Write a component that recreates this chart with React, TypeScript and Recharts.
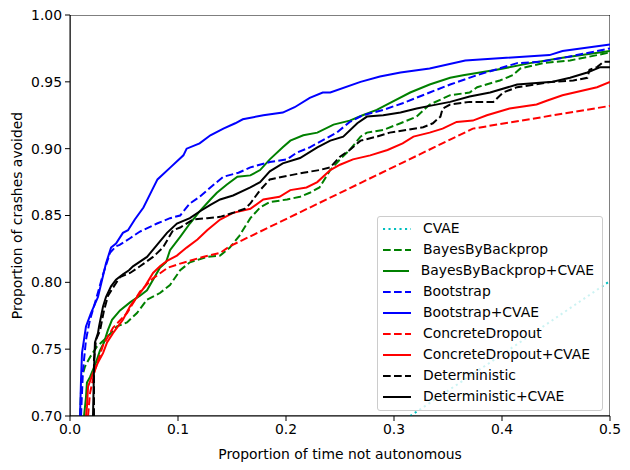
import { LineChart, Line, XAxis, YAxis, Legend, ReferenceArea } from "recharts";

const FONT = "'DejaVu Sans', sans-serif";
const FS = 13.9;

const xTicks = [0, 0.1, 0.2, 0.3, 0.4, 0.5];
const yTicks = [0.7, 0.75, 0.8, 0.85, 0.9, 0.95, 1.0];

// [proportion of time not autonomous, proportion of crashes avoided]
const cvae: [number, number][] = [
  [0.315, 0.7], [0.4, 0.746], [0.5, 0.801],
];

const bayesByBackprop: [number, number][] = [
  [0.0093, 0.7], [0.0102, 0.719], [0.011, 0.729], [0.0139, 0.737], [0.0185, 0.744],
  [0.025, 0.752], [0.0343, 0.759], [0.0435, 0.767], [0.0528, 0.77], [0.062, 0.777],
  [0.0713, 0.787], [0.0833, 0.792], [0.0926, 0.798], [0.102, 0.809], [0.111, 0.815],
  [0.127, 0.819], [0.139, 0.82], [0.148, 0.826], [0.157, 0.835], [0.167, 0.848],
  [0.176, 0.856], [0.185, 0.86], [0.201, 0.862], [0.213, 0.864], [0.222, 0.867],
  [0.231, 0.871], [0.241, 0.884], [0.25, 0.892], [0.259, 0.899], [0.269, 0.909],
  [0.275, 0.912], [0.29, 0.914], [0.306, 0.919], [0.321, 0.924], [0.333, 0.933],
  [0.352, 0.94], [0.37, 0.942], [0.377, 0.946], [0.398, 0.951], [0.41, 0.955],
  [0.417, 0.96], [0.438, 0.964], [0.463, 0.966], [0.488, 0.97], [0.5, 0.972],
];

const bayesByBackpropCvae: [number, number][] = [
  [0.013, 0.7], [0.0148, 0.714], [0.0157, 0.725], [0.0185, 0.729], [0.024, 0.74],
  [0.0278, 0.749], [0.0315, 0.755], [0.035, 0.764], [0.0389, 0.772], [0.0463, 0.779],
  [0.0556, 0.785], [0.0648, 0.79], [0.0713, 0.794], [0.0769, 0.802], [0.0833, 0.811],
  [0.0889, 0.815], [0.0926, 0.824], [0.102, 0.834], [0.111, 0.844], [0.12, 0.853],
  [0.13, 0.862], [0.136, 0.867], [0.145, 0.873], [0.155, 0.879], [0.167, 0.88],
  [0.176, 0.884], [0.185, 0.892], [0.197, 0.901], [0.204, 0.906], [0.216, 0.91],
  [0.229, 0.912], [0.244, 0.918], [0.259, 0.921], [0.271, 0.925], [0.284, 0.929],
  [0.296, 0.934], [0.315, 0.942], [0.333, 0.948], [0.352, 0.953], [0.364, 0.955],
  [0.395, 0.959], [0.426, 0.964], [0.456, 0.968], [0.5, 0.973],
];

const bootstrap: [number, number][] = [
  [0.0102, 0.7], [0.012, 0.734], [0.0148, 0.757], [0.0185, 0.772], [0.024, 0.787],
  [0.0306, 0.806], [0.037, 0.822], [0.0426, 0.827], [0.046, 0.828], [0.0556, 0.833],
  [0.0648, 0.838], [0.0806, 0.844], [0.0926, 0.848], [0.102, 0.85], [0.111, 0.859],
  [0.12, 0.864], [0.13, 0.871], [0.142, 0.879], [0.156, 0.882], [0.167, 0.886],
  [0.185, 0.89], [0.201, 0.892], [0.21, 0.897], [0.222, 0.901], [0.238, 0.908],
  [0.247, 0.912], [0.259, 0.92], [0.271, 0.925], [0.29, 0.929], [0.308, 0.934],
  [0.333, 0.942], [0.352, 0.948], [0.377, 0.955], [0.414, 0.964], [0.435, 0.965],
  [0.463, 0.969], [0.494, 0.974], [0.5, 0.975],
];

const bootstrapCvae: [number, number][] = [
  [0.0093, 0.7], [0.0102, 0.727], [0.0111, 0.747], [0.0148, 0.767], [0.0194, 0.777],
  [0.0259, 0.789], [0.0333, 0.814], [0.038, 0.826], [0.0426, 0.829], [0.049, 0.837],
  [0.0537, 0.839], [0.06, 0.847], [0.068, 0.856], [0.076, 0.869], [0.081, 0.877],
  [0.093, 0.886], [0.105, 0.895], [0.108, 0.9], [0.12, 0.904], [0.13, 0.91],
  [0.142, 0.915], [0.153, 0.919], [0.16, 0.922], [0.179, 0.925], [0.197, 0.927],
  [0.208, 0.931], [0.222, 0.938], [0.234, 0.942], [0.241, 0.942], [0.269, 0.95],
  [0.287, 0.954], [0.306, 0.957], [0.333, 0.96], [0.366, 0.966], [0.444, 0.97],
  [0.456, 0.973], [0.5, 0.978],
];

const concreteDropout: [number, number][] = [
  [0.0167, 0.7], [0.0185, 0.717], [0.0231, 0.734], [0.0306, 0.753], [0.0398, 0.766],
  [0.0528, 0.777], [0.0648, 0.793], [0.0769, 0.803], [0.0907, 0.811], [0.102, 0.814],
  [0.123, 0.819], [0.139, 0.822], [0.148, 0.827], [0.373, 0.915], [0.5, 0.932],
];

const concreteDropoutCvae: [number, number][] = [
  [0.0148, 0.7], [0.0157, 0.707], [0.0167, 0.722], [0.0213, 0.732], [0.0259, 0.74],
  [0.0306, 0.747], [0.0343, 0.755], [0.0398, 0.762], [0.049, 0.772], [0.0556, 0.782],
  [0.062, 0.789], [0.0694, 0.797], [0.0769, 0.807], [0.0833, 0.812], [0.0898, 0.816],
  [0.099, 0.82], [0.108, 0.826], [0.118, 0.832], [0.127, 0.839], [0.139, 0.847],
  [0.151, 0.852], [0.167, 0.855], [0.179, 0.862], [0.194, 0.864], [0.204, 0.869],
  [0.219, 0.871], [0.229, 0.875], [0.241, 0.884], [0.25, 0.888], [0.262, 0.892],
  [0.278, 0.895], [0.294, 0.899], [0.308, 0.904], [0.318, 0.909], [0.333, 0.912],
  [0.345, 0.915], [0.358, 0.92], [0.373, 0.921], [0.386, 0.925], [0.407, 0.93],
  [0.432, 0.933], [0.442, 0.936], [0.456, 0.94], [0.488, 0.946], [0.5, 0.95],
];

const deterministic: [number, number][] = [
  [0.0222, 0.7], [0.0222, 0.742], [0.0241, 0.757], [0.0278, 0.764], [0.0315, 0.779],
  [0.0352, 0.79], [0.0398, 0.796], [0.0463, 0.804], [0.0556, 0.807], [0.0648, 0.812],
  [0.0769, 0.819], [0.0861, 0.826], [0.0954, 0.839], [0.102, 0.841], [0.114, 0.847],
  [0.127, 0.848], [0.139, 0.849], [0.151, 0.852], [0.162, 0.855], [0.167, 0.859],
  [0.176, 0.869], [0.185, 0.877], [0.197, 0.879], [0.216, 0.882], [0.231, 0.884],
  [0.241, 0.886], [0.25, 0.894], [0.259, 0.899], [0.269, 0.906], [0.284, 0.909],
  [0.296, 0.912], [0.312, 0.914], [0.327, 0.916], [0.336, 0.919], [0.343, 0.924],
  [0.345, 0.93], [0.352, 0.933], [0.37, 0.935], [0.392, 0.935], [0.401, 0.942],
  [0.414, 0.946], [0.447, 0.95], [0.466, 0.951], [0.479, 0.953], [0.481, 0.959],
  [0.488, 0.961], [0.494, 0.965], [0.5, 0.965],
];

const deterministicCvae: [number, number][] = [
  [0.0213, 0.7], [0.0222, 0.734], [0.0231, 0.755], [0.0259, 0.762], [0.0269, 0.767],
  [0.0306, 0.782], [0.0333, 0.789], [0.038, 0.797], [0.0426, 0.802], [0.049, 0.806],
  [0.0546, 0.809], [0.0583, 0.812], [0.0713, 0.819], [0.0806, 0.828], [0.0898, 0.837],
  [0.099, 0.844], [0.111, 0.848], [0.12, 0.853], [0.13, 0.858], [0.139, 0.862],
  [0.151, 0.865], [0.167, 0.871], [0.176, 0.875], [0.185, 0.883], [0.197, 0.889],
  [0.213, 0.893], [0.229, 0.901], [0.241, 0.906], [0.253, 0.909], [0.266, 0.919],
  [0.275, 0.924], [0.29, 0.925], [0.306, 0.927], [0.321, 0.93], [0.333, 0.932],
  [0.352, 0.935], [0.37, 0.939], [0.389, 0.942], [0.414, 0.948], [0.447, 0.95],
  [0.463, 0.953], [0.479, 0.957], [0.491, 0.961], [0.5, 0.961],
];

const DASH = "7.7 3.3";
const DOT = "2.1 3.4";

const series = [
  { name: "CVAE", points: cvae, color: "#00bfbf", dash: DOT },
  { name: "BayesByBackprop", points: bayesByBackprop, color: "#008000", dash: DASH },
  { name: "BayesByBackprop+CVAE", points: bayesByBackpropCvae, color: "#008000", dash: undefined },
  { name: "Bootstrap", points: bootstrap, color: "#0000ff", dash: DASH },
  { name: "Bootstrap+CVAE", points: bootstrapCvae, color: "#0000ff", dash: undefined },
  { name: "ConcreteDropout", points: concreteDropout, color: "#ff0000", dash: DASH },
  { name: "ConcreteDropout+CVAE", points: concreteDropoutCvae, color: "#ff0000", dash: undefined },
  { name: "Deterministic", points: deterministic, color: "#000000", dash: DASH },
  { name: "Deterministic+CVAE", points: deterministicCvae, color: "#000000", dash: undefined },
];

function LegendBox() {
  return (
    <div
      style={{
        background: "rgba(255,255,255,0.8)",
        border: "1px solid #cccccc",
        borderRadius: 3,
        padding: "2px 8px 3px 5px",
        fontFamily: FONT,
        fontSize: FS,
        color: "#000",
        lineHeight: 1,
      }}
    >
      {series.map((s) => (
        <div key={s.name} style={{ display: "flex", alignItems: "center", height: 20.9 }}>
          <svg width={28} height={10} style={{ marginRight: 12 }}>
            <line x1={0} x2={28} y1={5} y2={5} stroke={s.color} strokeWidth={2} strokeDasharray={s.dash} />
          </svg>
          <span>{s.name}</span>
        </div>
      ))}
    </div>
  );
}

export default function App() {
  const tickStyle = { fontSize: FS, fill: "#000", fontFamily: FONT };
  return (
    <div style={{ position: "absolute", left: 0, top: 0, background: "#fff" }}>
      <LineChart width={630} height={470} margin={{ top: 15, right: 20, bottom: 0, left: 0 }}>
        <XAxis
          dataKey="x"
          type="number"
          domain={[0, 0.5]}
          ticks={xTicks}
          allowDataOverflow
          tickFormatter={(v: number) => v.toFixed(1)}
          tick={tickStyle}
          tickSize={5}
          tickMargin={3}
          height={54}
          axisLine={{ stroke: "#000" }}
          tickLine={{ stroke: "#000" }}
          label={{
            value: "Proportion of time not autonomous",
            position: "insideBottom",
            offset: 11,
            style: { fontSize: FS, fill: "#000", fontFamily: FONT },
          }}
        />
        <YAxis
          type="number"
          domain={[0.7, 1.0]}
          ticks={yTicks}
          allowDataOverflow
          tickFormatter={(v: number) => v.toFixed(2)}
          tick={tickStyle}
          tickSize={5}
          tickMargin={3}
          width={70}
          axisLine={{ stroke: "#000" }}
          tickLine={{ stroke: "#000" }}
          label={{
            content: ({ viewBox }: any) => {
              const cx = 17;
              const cy = viewBox.y + viewBox.height / 2;
              return (
                <text
                  x={cx}
                  y={cy}
                  transform={`rotate(-90 ${cx} ${cy})`}
                  textAnchor="middle"
                  dominantBaseline="central"
                  style={{ fontSize: FS, fill: "#000", fontFamily: FONT }}
                >
                  Proportion of crashes avoided
                </text>
              );
            },
          }}
        />
        <ReferenceArea x1={0} x2={0.5} y1={0.7} y2={1.0} fill="none" stroke="#000" strokeWidth={1} ifOverflow="hidden" />
        {series.map((s) => (
          <Line
            key={s.name}
            name={s.name}
            data={s.points.map(([x, y]) => ({ x, y }))}
            dataKey="y"
            stroke={s.color}
            strokeWidth={2}
            strokeDasharray={s.dash}
            dot={false}
            activeDot={false}
            type="linear"
            isAnimationActive={false}
          />
        ))}
        <Legend
          layout="vertical"
          align="center"
          verticalAlign="middle"
          content={() => <LegendBox />}
          wrapperStyle={{ left: 377, top: 216, width: 226 }}
        />
      </LineChart>
    </div>
  );
}
